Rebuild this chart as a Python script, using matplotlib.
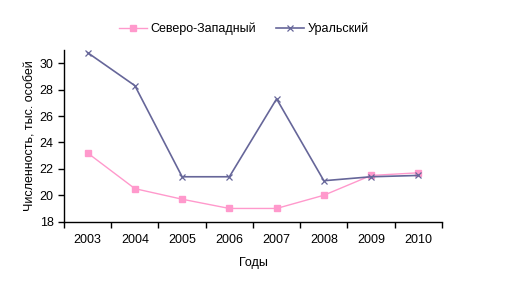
import matplotlib
matplotlib.use("Agg")
import matplotlib.pyplot as plt
import numpy as np

years = ["2003", "2004", "2005", "2006", "2007", "2008", "2009", "2010"]
nw = [23.2, 20.5, 19.7, 19.0, 19.0, 20.0, 21.5, 21.7]
ural = [30.8, 28.3, 21.4, 21.4, 27.3, 21.1, 21.4, 21.5]

plt.rcParams['font.family'] = ['Liberation Sans', 'DejaVu Sans']

fig = plt.figure(figsize=(5.08, 2.89), dpi=100)
ax = fig.add_axes([0.126, 0.233, 0.744, 0.594])

x = np.arange(len(years)) + 0.5
ax.plot(x, nw, color='#FF99CC', lw=1, marker='s', ms=5, mec='#FF99CC', mfc='#FF99CC', label='Северо-Западный')
ax.plot(x, ural, color='#666699', lw=1.2, marker='x', ms=5, mew=0.9, label='Уральский')

ax.set_xlim(0, len(years))
ax.set_ylim(18, 31)
ax.set_yticks([18, 20, 22, 24, 26, 28, 30])
ax.set_xticks(np.arange(len(years) + 1))
ax.set_xticklabels([])
ax.set_xticks(x, minor=True)
ax.set_xticklabels(years, minor=True)
ax.tick_params(axis='x', which='major', length=4, width=1, direction='out')
ax.tick_params(axis='x', which='minor', length=0, pad=9, labelsize=9)
ax.tick_params(axis='y', length=4, width=1, direction='out', labelsize=9)
for s in ['top', 'right']:
    ax.spines[s].set_visible(False)
for s in ['left', 'bottom']:
    ax.spines[s].set_linewidth(1)

ax.set_xlabel('Годы', fontsize=9, labelpad=8)
ax.set_ylabel('Численность, тыс. особей', fontsize=9, labelpad=2)

fig.legend(loc='center', bbox_to_anchor=(0.48, 0.9), ncol=2, frameon=False, fontsize=9,
           handlelength=2.2, handletextpad=0.3, columnspacing=1.6)

fig.savefig('out.png', dpi=100)
